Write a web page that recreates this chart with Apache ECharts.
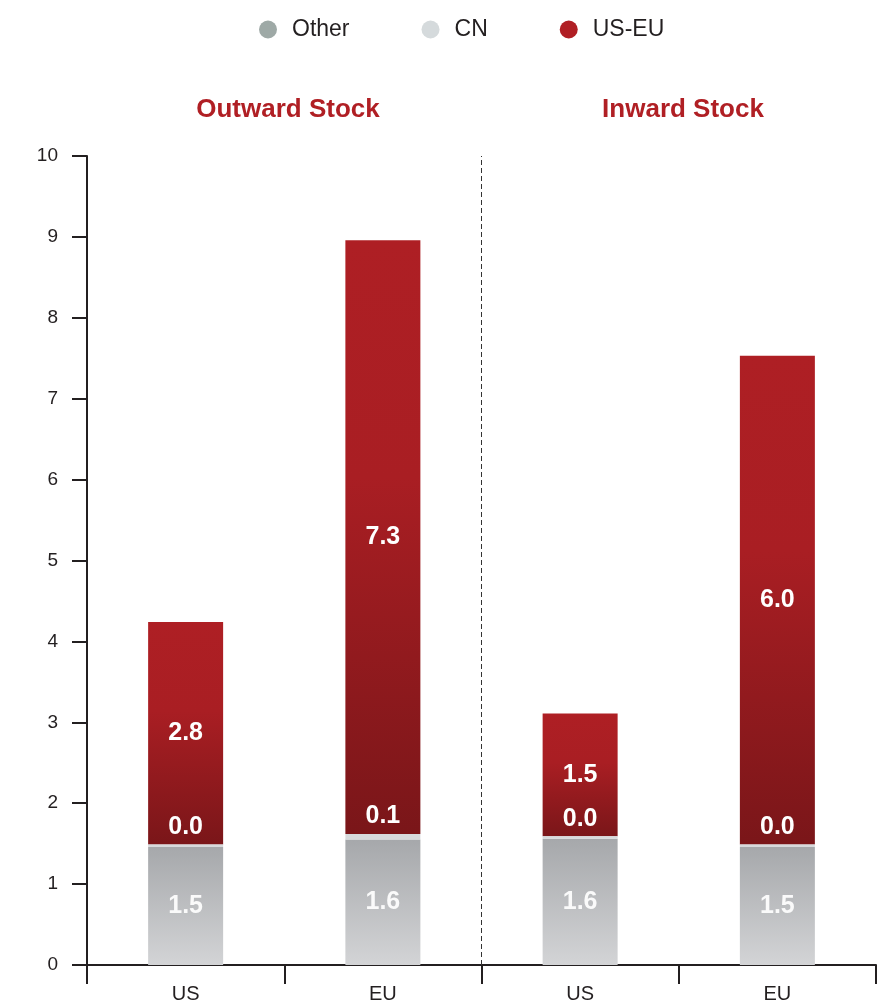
<!DOCTYPE html>
<html>
<head>
<meta charset="utf-8">
<script src="https://cdn.jsdelivr.net/npm/echarts@6/dist/echarts.min.js"></script>
<style>
  html, body { margin: 0; padding: 0; background: #fff; }
  #myChart { width: 890px; height: 1004px; }
</style>
</head>
<body>
<div id="myChart"></div>
<script>
// 数据
var categories = ['US', 'EU', 'US', 'EU']
var groupTitles = ['Outward Stock', 'Inward Stock']
var otherValues = [1.46, 1.55, 1.56, 1.46]
var cnValues = [0.03, 0.07, 0.03, 0.03]
var usEuValues = [2.75, 7.34, 1.52, 6.04]
var dividerAt = 2 // between Outward and Inward groups

var font = '"Liberation Sans", Arial, Helvetica, sans-serif'
var ink = '#231f20'

function fmt(p) {
  return p.value.toFixed(1)
}

var chartDom = document.getElementById('myChart')
var myChart = echarts.init(chartDom)
var option = {
  animation: false,
  title: [
    {
      text: groupTitles[0],
      left: 288,
      top: 97,
      padding: 0,
      textAlign: 'center',
      textStyle: { color: '#b01f24', fontSize: 26, fontWeight: 'bold', fontFamily: font }
    },
    {
      text: groupTitles[1],
      left: 683,
      top: 97,
      padding: 0,
      textAlign: 'center',
      textStyle: { color: '#b01f24', fontSize: 26, fontWeight: 'bold', fontFamily: font }
    }
  ],
  legend: {
    top: 13,
    left: 254,
    selectedMode: false,
    icon: 'circle',
    itemWidth: 18,
    itemHeight: 18,
    itemGap: 72,
    textStyle: { color: ink, fontSize: 23, fontFamily: font, padding: [0, 0, 0, 10] },
    data: [
      { name: 'Other', itemStyle: { color: '#9ea9a6' } },
      { name: 'CN', itemStyle: { color: '#d5dadc' } },
      { name: 'US-EU', itemStyle: { color: '#b01f24' } }
    ]
  },
  grid: {
    left: 87,
    right: 14,
    top: 156,
    bottom: 37
  },
  xAxis: [
    {
      type: 'category',
      data: categories,
      axisLine: { lineStyle: { color: ink, width: 2 } },
      axisTick: { show: true, length: 19, lineStyle: { color: ink, width: 2 } },
      axisLabel: { color: ink, fontSize: 20, fontFamily: font, margin: 19 },
      splitLine: { show: false }
    },
    {
      // 隐藏的数值轴，用来画中间的虚线
      type: 'value',
      min: 0,
      max: categories.length,
      show: false
    }
  ],
  yAxis: {
    type: 'value',
    min: 0,
    max: 10,
    interval: 1,
    axisLine: { show: true, lineStyle: { color: ink, width: 2 } },
    axisTick: { show: true, length: 15, lineStyle: { color: ink, width: 2 } },
    axisLabel: { color: ink, fontSize: 19, fontFamily: font, margin: 29, padding: [0, 0, 8, 0] },
    splitLine: { show: false }
  },
  series: [
    {
      name: 'Other',
      type: 'bar',
      stack: 'total',
      barWidth: 75,
      data: otherValues,
      itemStyle: {
        color: new echarts.graphic.LinearGradient(0, 0, 0, 1, [
          { offset: 0, color: '#a6a8ab' },
          { offset: 1, color: '#d3d4d6' }
        ])
      },
      label: {
        show: true,
        position: 'inside',
        formatter: fmt,
        color: 'rgba(255,255,255,0.92)',
        fontSize: 25,
        fontWeight: 'bold',
        fontFamily: font
      }
    },
    {
      name: 'CN',
      type: 'bar',
      stack: 'total',
      barWidth: 75,
      data: cnValues,
      itemStyle: { color: '#d7dadc' },
      label: {
        show: true,
        position: 'top',
        distance: 5,
        formatter: fmt,
        color: '#fff',
        fontSize: 25,
        fontWeight: 'bold',
        fontFamily: font
      }
    },
    {
      name: 'US-EU',
      type: 'bar',
      stack: 'total',
      barWidth: 75,
      data: usEuValues,
      z: 1,
      itemStyle: {
        color: new echarts.graphic.LinearGradient(0, 0, 0, 1, [
          { offset: 0, color: '#ae1f24' },
          { offset: 0.4, color: '#a91e23' },
          { offset: 1, color: '#7a1619' }
        ])
      },
      label: {
        show: true,
        position: 'inside',
        formatter: fmt,
        color: '#fff',
        fontSize: 25,
        fontWeight: 'bold',
        fontFamily: font
      }
    },
    {
      name: 'divider',
      type: 'line',
      xAxisIndex: 1,
      data: [],
      silent: true,
      markLine: {
        symbol: ['none', 'none'],
        silent: true,
        label: { show: false },
        lineStyle: { color: '#333', width: 1, type: [5, 3] },
        data: [{ xAxis: dividerAt }]
      }
    }
  ]
}
myChart.setOption(option)
</script>
</body>
</html>
